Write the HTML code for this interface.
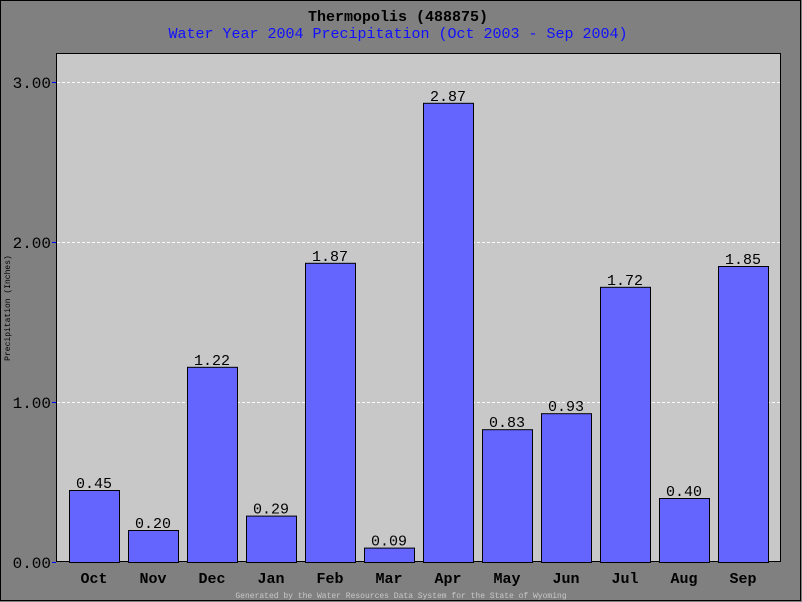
<!DOCTYPE html>
<html><head><meta charset="utf-8"><style>
body{margin:0;background:#808080;}
svg{display:block;font-family:"Liberation Mono","DejaVu Sans Mono",monospace;}
</style></head><body>
<svg width="802" height="602">
<rect x="0.5" y="0.5" width="800" height="600" fill="#808080" stroke="#000"/>
<text x="398" y="21" text-anchor="middle" font-size="15" font-weight="bold" fill="#000">Thermopolis (488875)</text>
<text x="398" y="38" text-anchor="middle" font-size="15" fill="#1010ff">Water Year 2004 Precipitation (Oct 2003 - Sep 2004)</text>
<rect x="56.5" y="53.5" width="724" height="508" fill="#c8c8c8" stroke="#000"/>
<g id="grid"></g><g id="bars"></g><g id="axes"></g>
<text transform="translate(10,308) rotate(-90)" text-anchor="middle" font-size="8" fill="#000">Precipitation (Inches)</text>
<text x="401" y="598" text-anchor="middle" font-size="8" fill="#c8c8c8">Generated by the Water Resources Data System for the State of Wyoming</text>
</svg>
<script>
const categories=["Oct","Nov","Dec","Jan","Feb","Mar","Apr","May","Jun","Jul","Aug","Sep"];
const values=[0.45,0.20,1.22,0.29,1.87,0.09,2.87,0.83,0.93,1.72,0.40,1.85];
const yTicks=[0,1,2,3];
const yLabels=["0.00","1.00","2.00","3.00"];
const NS="http://www.w3.org/2000/svg";
const y=v=>562-v*160;
const x=i=>94+i*59;
function mk(tag,attrs,parent,txt){const e=document.createElementNS(NS,tag);for(const k in attrs)e.setAttribute(k,attrs[k]);if(txt!=null)e.textContent=txt;document.getElementById(parent).appendChild(e);return e;}
yTicks.forEach((t,i)=>{
 if(t>0){const g=mk('line',{x1:57,x2:780,y1:y(t)+0.5,y2:y(t)+0.5,stroke:'#fff','stroke-dasharray':'3,2'},'grid');
 
 }
 const tk=mk('line',{x1:52,x2:56,y1:y(t)+0.5,y2:y(t)+0.5,stroke:'#00f'},'axes');
 
 
 const lb=mk('text',{x:51,y:y(t)+6,'text-anchor':'end','font-size':16,fill:'#000'},'axes',yLabels[i]);
 
 
});
categories.forEach((c,i)=>{
 const r=mk('rect',{x:x(i)-25+0.5,y:y(values[i])+0.5,width:50,height:562-y(values[i]),fill:'#6464ff',stroke:'#000'},'bars');
 
 
 const v=mk('text',{x:x(i),y:y(values[i])-2,'text-anchor':'middle','font-size':15,fill:'#000'},'bars',values[i].toFixed(2));
 
 
 const l=mk('text',{x:x(i),y:583,'text-anchor':'middle','font-size':15,'font-weight':'bold',fill:'#000'},'axes',c);
 
 
});
</script>
</body></html>
